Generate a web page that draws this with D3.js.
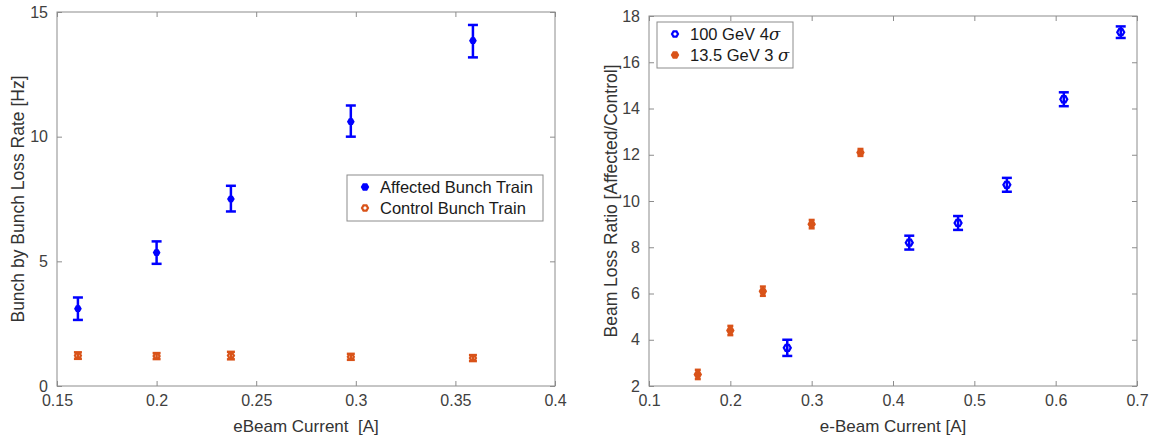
<!DOCTYPE html>
<html>
<head>
<meta charset="utf-8">
<script src="https://cdn.jsdelivr.net/npm/d3@7"></script>
<style>
  body { margin: 0; background: #fff; }
  svg { font-family: 'Liberation Sans', Arial, sans-serif; }
  .axis text { fill: #404040; font-size: 16px; }
  .axis path, .axis line { stroke: #8c8c8c; }
</style>
</head>
<body>
<svg id="chart" width="1156" height="443"></svg>
<script>
// Left panel: bunch loss rate vs eBeam current
var leftX = [0.1605, 0.2000, 0.2373, 0.2975, 0.3588]
var affectedRate = [3.1, 5.35, 7.5, 10.6, 13.85]
var affectedLo = [2.65, 4.9, 7.0, 10.0, 13.18]
var affectedHi = [3.55, 5.8, 8.03, 11.25, 14.48]
var controlRate = [1.22, 1.2, 1.22, 1.17, 1.12]
var controlErr = [0.13, 0.12, 0.15, 0.12, 0.12]

// Right panel: loss ratio vs e-Beam current
var x100 = [0.27, 0.42, 0.48, 0.54, 0.61, 0.68]
var ratio100 = [3.65, 8.2, 9.05, 10.7, 14.4, 17.3]
var err100 = [0.35, 0.3, 0.3, 0.3, 0.3, 0.25]
var x135 = [0.16, 0.20, 0.24, 0.30, 0.36]
var ratio135 = [2.5, 4.4, 6.1, 9.0, 12.1]
var err135 = [0.2, 0.2, 0.2, 0.18, 0.15]

var leftXTicks = [0.15, 0.2, 0.25, 0.3, 0.35, 0.4]
var leftYTicks = [0, 5, 10, 15]
var rightXTicks = [0.1, 0.2, 0.3, 0.4, 0.5, 0.6, 0.7]
var rightYTicks = [2, 4, 6, 8, 10, 12, 14, 16, 18]

var blue = '#0000ff'
var orange = '#d95319'

var svg = d3.select('#chart')

function drawPanel (opts) {
  var x = d3.scaleLinear().domain(opts.xDomain).range([opts.left, opts.right])
  var y = d3.scaleLinear().domain(opts.yDomain).range([opts.bottom, opts.top])
  var g = svg.append('g')

  // box
  g.append('rect')
    .attr('x', opts.left).attr('y', opts.top)
    .attr('width', opts.right - opts.left).attr('height', opts.bottom - opts.top)
    .attr('fill', 'none').attr('stroke', '#8c8c8c')

  g.append('g').attr('class', 'axis')
    .attr('transform', 'translate(0,' + opts.bottom + ')')
    .call(d3.axisBottom(x).tickValues(opts.xTicks).tickSizeInner(-5).tickSizeOuter(0).tickPadding(9).tickFormat(d3.format('')))
  g.append('g').attr('class', 'axis')
    .attr('transform', 'translate(0,' + opts.top + ')')
    .call(d3.axisTop(x).tickValues(opts.xTicks).tickSizeInner(-5).tickSizeOuter(0).tickFormat(''))
  g.append('g').attr('class', 'axis')
    .attr('transform', 'translate(' + opts.left + ',0)')
    .call(d3.axisLeft(y).tickValues(opts.yTicks).tickSizeInner(-5).tickSizeOuter(0).tickPadding(9))
  g.append('g').attr('class', 'axis')
    .attr('transform', 'translate(' + opts.right + ',0)')
    .call(d3.axisRight(y).tickValues(opts.yTicks).tickSizeInner(-5).tickSizeOuter(0).tickFormat(''))
  g.selectAll('.axis .domain').remove()

  g.append('text')
    .attr('x', (opts.left + opts.right) / 2).attr('y', opts.bottom + 46)
    .attr('text-anchor', 'middle').attr('fill', '#333').attr('font-size', 17)
    .attr('xml:space', 'preserve')
    .text(opts.xLabel)
  g.append('text')
    .attr('transform', 'translate(' + opts.yLabelX + ',' + (opts.top + opts.bottom) / 2 + ') rotate(-90)')
    .attr('text-anchor', 'middle').attr('fill', '#333').attr('font-size', opts.yLabelSize)
    .text(opts.yLabel)

  return { x: x, y: y, g: g }
}

function errorBars (p, xs, lo, hi, color, width, cap) {
  var eb = p.g.append('g').attr('stroke', color).attr('stroke-width', width)
  xs.forEach(function (xv, i) {
    var cx = p.x(xv)
    eb.append('line').attr('x1', cx).attr('x2', cx).attr('y1', p.y(lo[i])).attr('y2', p.y(hi[i]))
    eb.append('line').attr('x1', cx - cap).attr('x2', cx + cap).attr('y1', p.y(lo[i])).attr('y2', p.y(lo[i]))
    eb.append('line').attr('x1', cx - cap).attr('x2', cx + cap).attr('y1', p.y(hi[i])).attr('y2', p.y(hi[i]))
  })
}

function hexPath (cx, cy, r) {
  var pts = d3.range(6).map(function (k) {
    var a = Math.PI / 3 * k
    return [cx + r * Math.cos(a), cy + r * Math.sin(a)]
  })
  return d3.line()(pts) + 'Z'
}

function markers (p, xs, ys, color, r, filled) {
  p.g.append('g').selectAll('path')
    .data(xs)
    .enter().append('path')
    .attr('d', function (d, i) { return hexPath(p.x(d), p.y(ys[i]), r) })
    .attr('fill', filled ? color : 'none')
    .attr('stroke', color)
    .attr('stroke-width', 2.2)
}

function legend (p, lx, ly, w, h, items) {
  var lg = p.g.append('g')
  lg.append('rect').attr('x', lx).attr('y', ly).attr('width', w).attr('height', h)
    .attr('fill', '#fff').attr('stroke', '#8c8c8c')
  items.forEach(function (it, i) {
    var cy = ly + 12 + i * 21
    lg.append('path').attr('d', hexPath(lx + 18, cy, 3))
      .attr('fill', it.filled ? it.color : 'none').attr('stroke', it.color).attr('stroke-width', 2.2)
    var t = lg.append('text').attr('x', lx + 33).attr('y', cy + 6)
      .attr('fill', '#1a1a1a').attr('font-size', 16.5)
    it.label.forEach(function (part) {
      t.append('tspan').attr('font-style', part.italic ? 'italic' : null)
        .attr('font-family', part.italic ? "'DejaVu Serif', serif" : null)
        .text(part.text)
    })
  })
}

// Left panel
var pl = drawPanel({
  left: 57, right: 555, top: 12, bottom: 386,
  xDomain: [0.15, 0.4], yDomain: [0, 15],
  xTicks: leftXTicks, yTicks: leftYTicks,
  xLabel: 'eBeam Current  [A]', yLabel: 'Bunch by Bunch Loss Rate [Hz]', yLabelX: 24, yLabelSize: 17.5
})
errorBars(pl, leftX, affectedLo, affectedHi, blue, 2.5, 5)
markers(pl, leftX, affectedRate, blue, 2.6, true)
errorBars(pl, leftX,
  controlRate.map(function (v, i) { return v - controlErr[i] }),
  controlRate.map(function (v, i) { return v + controlErr[i] }), orange, 2.5, 4)
markers(pl, leftX, controlRate, orange, 3, false)
legend(pl, 347, 175, 196, 46, [
  { color: blue, filled: true, label: [{ text: 'Affected Bunch Train' }] },
  { color: orange, filled: false, label: [{ text: 'Control Bunch Train' }] }
])

// Right panel
var pr = drawPanel({
  left: 649, right: 1137, top: 16, bottom: 386,
  xDomain: [0.1, 0.7], yDomain: [2, 18],
  xTicks: rightXTicks, yTicks: rightYTicks,
  xLabel: 'e-Beam Current [A]', yLabel: 'Beam Loss Ratio [Affected/Control]', yLabelX: 617, yLabelSize: 17.5
})
errorBars(pr, x100,
  ratio100.map(function (v, i) { return v - err100[i] }),
  ratio100.map(function (v, i) { return v + err100[i] }), blue, 2.5, 5)
markers(pr, x100, ratio100, blue, 3.5, false)
errorBars(pr, x135,
  ratio135.map(function (v, i) { return v - err135[i] }),
  ratio135.map(function (v, i) { return v + err135[i] }), orange, 2.5, 3)
markers(pr, x135, ratio135, orange, 3, true)
legend(pr, 657, 22, 136, 46, [
  { color: blue, filled: false, label: [{ text: '100 GeV 4' }, { text: 'σ', italic: true }] },
  { color: orange, filled: true, label: [{ text: '13.5 GeV 3 ' }, { text: 'σ', italic: true }] }
])
</script>
</body>
</html>
